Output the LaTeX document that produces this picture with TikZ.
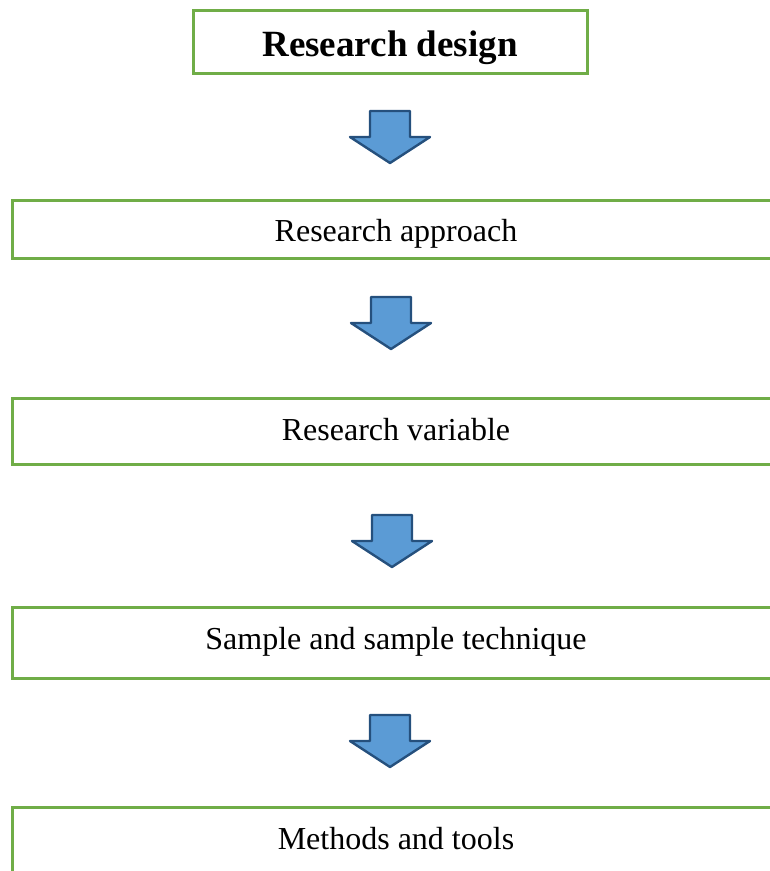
\documentclass[tikz,border=0pt]{standalone}
\usepackage{fontspec}
\setmainfont{Liberation Serif}
\usetikzlibrary{positioning,calc}
\definecolor{boxgreen}{RGB}{112,173,71}
\definecolor{arrfill}{RGB}{91,155,213}
\definecolor{arrline}{RGB}{37,80,125}
\tikzset{
  stagebox/.style={draw=boxgreen,line width=3pt,fill=white,minimum width=768pt,align=center,inner sep=0pt,
    text height=22pt,text depth=8pt,font=\fontsize{32}{36}\selectfont},
  titlebox/.style={draw=boxgreen,line width=3pt,fill=white,minimum width=394pt,minimum height=63pt,align=center,inner sep=0pt,
    text height=30pt,text depth=1pt,font=\bfseries\fontsize{37}{40}\selectfont},
  blockarr/.pic={
    \draw[arrline,fill=arrfill,line width=2.4pt,line join=round]
      (-20pt,0pt) -- (20pt,0pt) -- (20pt,-26pt) -- (40pt,-26pt) -- (0pt,-52pt)
      -- (-40pt,-26pt) -- (-20pt,-26pt) -- cycle;
  }
}

\begin{document}
\begin{tikzpicture}[x=1pt,y=1pt]
\useasboundingbox (0,0) rectangle (770,-871);
\clip (0,0) rectangle (770,-871);
\node[titlebox] (design) at (390,-41.5) {Research design};
\node[stagebox,minimum height=58pt,text height=27pt,text depth=3pt] (approach) at (396,-229) {Research approach};
\node[stagebox,minimum height=66pt,text height=23pt,text depth=5pt] (variable) at (396,-431.5) {Research variable};
\node[stagebox,minimum height=71pt] (sample) at (396,-642.5) {Sample and sample technique};
\node[stagebox,minimum height=70pt] (methods) at (396,-842) {Methods and tools};
% arrows between the stages
\path (390,-111) pic {blockarr};
\path (391,-297) pic {blockarr};
\path (392,-515) pic {blockarr};
\path (390,-715) pic {blockarr};
\end{tikzpicture}
\end{document}
